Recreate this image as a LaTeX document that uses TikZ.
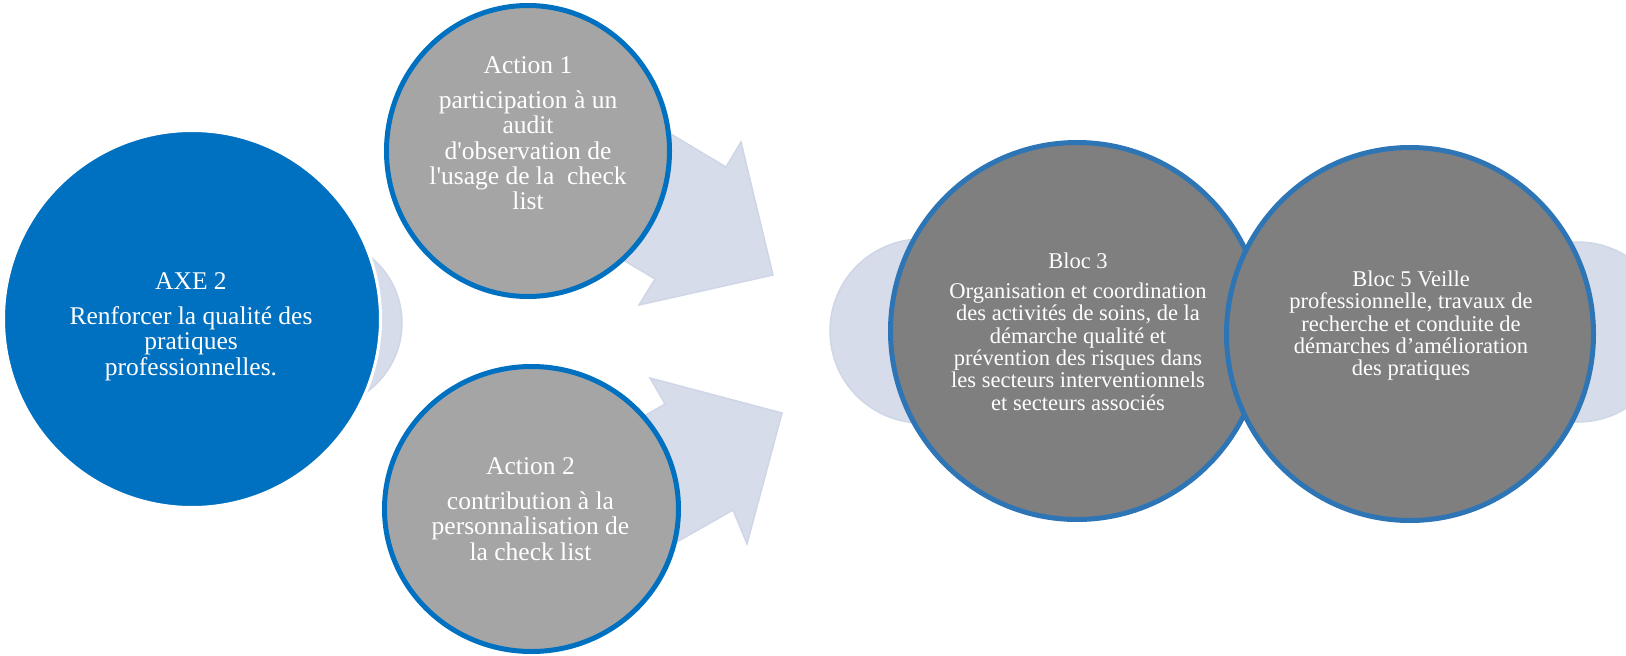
\documentclass[tikz,border=0pt]{standalone}
\usepackage{fontspec}
\setmainfont{Liberation Serif}[Ligatures=TeXOff]
\usetikzlibrary{shapes.geometric}
\definecolor{axeblue}{HTML}{0070C0}
\definecolor{actgray}{HTML}{A5A5A5}
\definecolor{blocgray}{HTML}{7F7F7F}
\definecolor{blocedge}{HTML}{2E75B6}
\definecolor{lightbg}{HTML}{D6DCEA}
\definecolor{lightedge}{HTML}{CFD6E6}
\begin{document}
\begin{tikzpicture}[x=1pt,y=-1pt,
  bgcirc/.style={circle, fill=lightbg, draw=lightedge, line width=1.5pt, inner sep=0pt},
  axecirc/.style={circle, fill=axeblue, draw=white, line width=3pt, inner sep=0pt},
  actcirc/.style={ellipse, fill=actgray, draw=axeblue, line width=5pt, inner sep=0pt},
  bloccirc/.style={ellipse, fill=blocgray, draw=blocedge, line width=5pt, inner sep=0pt},
  bigarrow/.style={fill=lightbg, draw=lightedge, line width=1.5pt, line join=miter},
  bigtxt/.style={text=white, align=center, inner sep=0pt, anchor=north,
    font=\fontsize{25.5}{25.4}\selectfont},
  smalltxt/.style={text=white, align=center, inner sep=0pt, anchor=north,
    font=\fontsize{22.5}{22.4}\selectfont}]
\useasboundingbox (0,0) rectangle (1626,656);
\clip (0,0) rectangle (1626,656);
% background circles
\node[bgcirc, minimum size=170pt] (bgaxe) at (317,323) {};
\node[bgcirc, minimum size=184pt] (bgleft) at (922,331) {};
\node[bgcirc, minimum size=180pt] (bgright) at (1578,332) {};
% AXE circle
\node[axecirc, minimum size=377pt] (axe) at (192,319) {};
% arrows
\path[bigarrow] (599,91) -- (726,167) -- (741,142) -- (773,275) -- (639,305) -- (655,279) -- (528,203) -- cycle;
\path[bigarrow] (535,479) -- (665,404) -- (650,378) -- (782,413) -- (747,544) -- (733,510) -- (603,584) -- cycle;
% action circles
\node[actcirc, minimum width=283pt, minimum height=291pt] (act1) at (528,151) {};
\node[actcirc, minimum width=294pt, minimum height=285pt] (act2) at (531.5,509) {};
% bloc circles
\node[bloccirc, minimum width=373pt, minimum height=377pt] (bloc3) at (1077,331) {};
\node[bloccirc, minimum width=367pt, minimum height=373pt] (bloc5) at (1410,334) {};
% texts
\node[bigtxt] (taxe) at (191,270) {\rule{0pt}{19pt}AXE 2\\[9.6pt] Renforcer la qualité des\\ pratiques\\ professionnelles.};
\node[bigtxt] (tact1) at (528,54) {\rule{0pt}{19pt}Action 1\\[9.6pt] participation à un\\ audit\\ d'observation de\\ l'usage de la\ \ check\\ list};
\node[bigtxt] (tact2) at (530.5,455) {\rule{0pt}{19pt}Action 2\\[9.6pt] contribution à la\\ personnalisation de\\ la check list};
\node[smalltxt] (tbloc3) at (1078,251) {\rule{0pt}{17pt}Bloc 3\\[7.6pt] Organisation et coordination\\ des activités de soins, de la\\ démarche qualité et\\ prévention des risques dans\\ les secteurs interventionnels\\ et secteurs associés};
\node[smalltxt] (tbloc5) at (1411,269) {\rule{0pt}{17pt}Bloc 5 Veille\\ professionnelle, travaux de\\ recherche et conduite de\\ démarches d’amélioration\\ des pratiques};
\end{tikzpicture}
\end{document}
